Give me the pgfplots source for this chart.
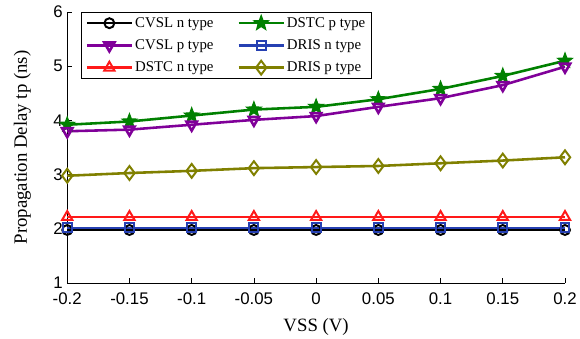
\documentclass[border=0pt]{standalone}
\usepackage{fontspec}
\setmainfont{Liberation Serif}
\setsansfont{Liberation Sans}
\usepackage{pgfplots}
\usetikzlibrary{plotmarks}
\pgfplotsset{compat=1.18}
\definecolor{cpurple}{rgb}{0.5,0,0.6}
\definecolor{cgreen}{rgb}{0,0.5,0}
\definecolor{cblue}{rgb}{0.15,0.25,0.7}
\definecolor{colive}{rgb}{0.5,0.5,0}
\definecolor{cred}{rgb}{1,0.1,0.1}
\pgfdeclareplotmark{fstar}{%
  \pgfpathmoveto{\pgfpointpolar{90}{\pgfplotmarksize}}%
  \pgfpathlineto{\pgfpointpolar{126}{0.42\pgfplotmarksize}}%
  \pgfpathlineto{\pgfpointpolar{162}{\pgfplotmarksize}}%
  \pgfpathlineto{\pgfpointpolar{198}{0.42\pgfplotmarksize}}%
  \pgfpathlineto{\pgfpointpolar{234}{\pgfplotmarksize}}%
  \pgfpathlineto{\pgfpointpolar{270}{0.42\pgfplotmarksize}}%
  \pgfpathlineto{\pgfpointpolar{306}{\pgfplotmarksize}}%
  \pgfpathlineto{\pgfpointpolar{342}{0.42\pgfplotmarksize}}%
  \pgfpathlineto{\pgfpointpolar{18}{\pgfplotmarksize}}%
  \pgfpathlineto{\pgfpointpolar{54}{0.42\pgfplotmarksize}}%
  \pgfpathclose
  \pgfusepathqfillstroke}
\begin{document}
\begin{tikzpicture}
\begin{axis}[
  scale only axis,
  width=501bp, height=273bp,
  xmin=-0.2, xmax=0.2, ymin=1, ymax=6,
  axis x line*=bottom, axis y line*=left,
  axis line style={line width=0.8pt},
  xtick={-0.2,-0.15,-0.1,-0.05,0,0.05,0.1,0.15,0.2},
  xticklabels={-0.2,-0.15,-0.1,-0.05,0,0.05,0.1,0.15,0.2},
  ytick={1,2,3,4,5,6},
  tick align=inside, major tick length=5bp,
  tick style={black, line width=0.6pt},
  /pgf/number format/assume math mode=true,
  ticklabel style={font=\fontsize{17}{18}\sffamily},
  xticklabel style={inner ysep=9bp},
  yticklabel style={inner ysep=0pt, xshift=-1bp},
  xlabel={VSS (V)}, ylabel={Propagation Delay tp (ns)},
  label style={font=\fontsize{19}{21}\selectfont},
  xlabel style={yshift=-2bp},
  ylabel style={inner ysep=14bp, yshift=5bp},
  legend columns=2,
  legend style={at={(rel axis cs:0.028,1)}, anchor=north west,
    font=\fontsize{15}{17}\selectfont, draw=black, line width=0.8pt,
    inner xsep=4bp, inner ysep=3bp, row sep=7bp,
    /tikz/every even column/.append style={column sep=22bp}},
  legend cell align=left,
  legend image code/.code={%
    \draw[mark repeat=2,mark phase=2] plot coordinates {(0cm,0cm)(0.8cm,0cm)(1.6cm,0cm)};},
  every axis plot/.append style={line width=2.6pt, mark options={solid, fill=white, line width=2pt}},
  clip=false,
]
\addplot[black, mark=o, mark size=5pt] coordinates {(-0.2,1.98)(-0.15,1.98)(-0.1,1.98)(-0.05,1.98)(0,1.98)(0.05,1.98)(0.1,1.98)(0.15,1.98)(0.2,1.98)};
\addlegendentry{CVSL n type}
\addplot[cgreen, mark=fstar, mark size=8pt, mark options={fill=cgreen, line width=1pt}] coordinates {(-0.2,3.92)(-0.15,3.98)(-0.1,4.09)(-0.05,4.2)(0,4.25)(0.05,4.39)(0.1,4.58)(0.15,4.82)(0.2,5.1)};
\addlegendentry{DSTC p type}
\addplot[cpurple, mark=triangle, mark size=6pt, mark options={rotate=180}] coordinates {(-0.2,3.8)(-0.15,3.83)(-0.1,3.92)(-0.05,4.01)(0,4.08)(0.05,4.25)(0.1,4.41)(0.15,4.65)(0.2,4.99)};
\addlegendentry{CVSL p type}
\addplot[cblue, mark=square, mark size=4.5pt] coordinates {(-0.2,2.02)(-0.15,2.02)(-0.1,2.02)(-0.05,2.02)(0,2.02)(0.05,2.02)(0.1,2.02)(0.15,2.02)(0.2,2.02)};
\addlegendentry{DRIS n type}
\addplot[cred, mark=triangle, mark size=6pt] coordinates {(-0.2,2.22)(-0.15,2.22)(-0.1,2.22)(-0.05,2.22)(0,2.22)(0.05,2.22)(0.1,2.22)(0.15,2.22)(0.2,2.22)};
\addlegendentry{DSTC n type}
\addplot[colive, mark=diamond, mark size=7pt] coordinates {(-0.2,2.98)(-0.15,3.03)(-0.1,3.07)(-0.05,3.12)(0,3.14)(0.05,3.16)(0.1,3.21)(0.15,3.26)(0.2,3.32)};
\addlegendentry{DRIS p type}
\end{axis}
\path (current bounding box.north) ++(0,6bp);
\end{tikzpicture}
\end{document}
